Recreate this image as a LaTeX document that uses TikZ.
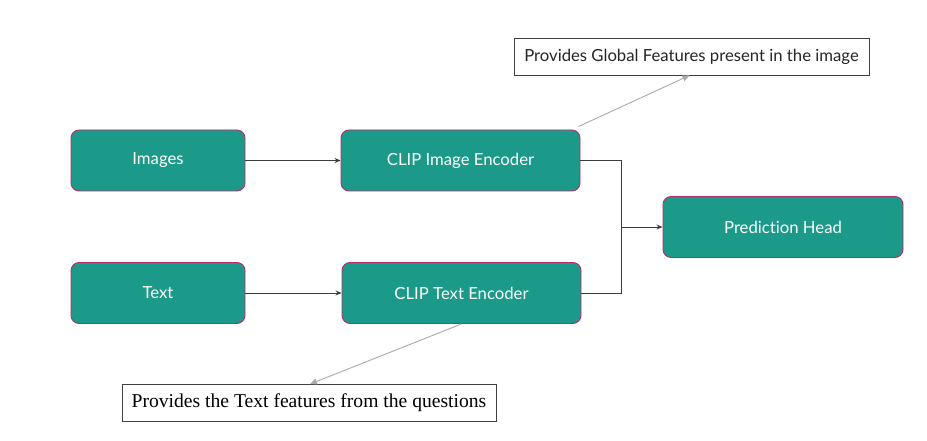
\documentclass[tikz,border=0pt]{standalone}
\usepackage{fontspec}
\setmainfont[Ligatures=NoCommon]{Lato}
\newfontfamily\serifface{Liberation Serif}
\usetikzlibrary{arrows.meta}
\definecolor{teal1}{RGB}{27,153,137}
\definecolor{bord}{RGB}{185,45,105}
\definecolor{lineg}{RGB}{60,60,60}
\definecolor{lightg}{RGB}{170,170,170}
\tikzset{
  block/.style={draw=bord, line width=0.9pt, fill=teal1, rounded corners=8pt, text=white, font=\fontsize{16.7}{19}\selectfont, minimum height=61pt, inner sep=0pt},
  note/.style={draw=black!75, line width=0.9pt, fill=white, inner sep=0pt, minimum height=37pt},
  conn/.style={draw=lineg, line width=1pt},
  arr/.style={conn, -{Stealth[length=6pt,width=5pt]}},
  garr/.style={draw=lightg, line width=0.9pt, -{Triangle[length=7pt,width=6pt]}}
}
\begin{document}
\begin{tikzpicture}[x=1pt,y=-1pt]
\useasboundingbox (0,0) rectangle (927,441);
\node[block, minimum width=174pt] (img) at (158,160.5) {Images};
\node[block, minimum width=239pt] (cie) at (460.5,160.5) {CLIP Image Encoder};
\node[block, minimum width=174pt] (txt) at (158,293) {Text};
\node[block, minimum width=239pt] (cte) at (461.5,293) {CLIP Text Encoder};
\node[block, minimum width=240pt] (ph) at (783,227) {Prediction Head};
\node[note, minimum width=355pt, font=\fontsize{16.7}{19}\selectfont, text=black!85] (gl) at (691.5,56.5) {Provides Global Features present in the image};
\node[note, minimum width=374pt, font=\serifface\fontsize{19.6}{22}\selectfont] (tl) at (309,403) {Provides the Text features from the questions};
\coordinate (j1) at (621,160.5);
\coordinate (j2) at (621,293);
\coordinate (jm) at (621,227);
\draw[arr] (img) -- (cie);
\draw[arr] (txt) -- (cte);
\draw[conn] (cie.east) -- (j1) -- (j2) -- (cte.east);
\draw[arr] (jm) -- (ph.west);
\draw[garr] ([xshift=-2pt,yshift=3pt]cie.north east) -- ([xshift=-2pt]gl.south);
\draw[garr] (cte.south) -- ([xshift=1pt]tl.north);
\end{tikzpicture}
\end{document}
